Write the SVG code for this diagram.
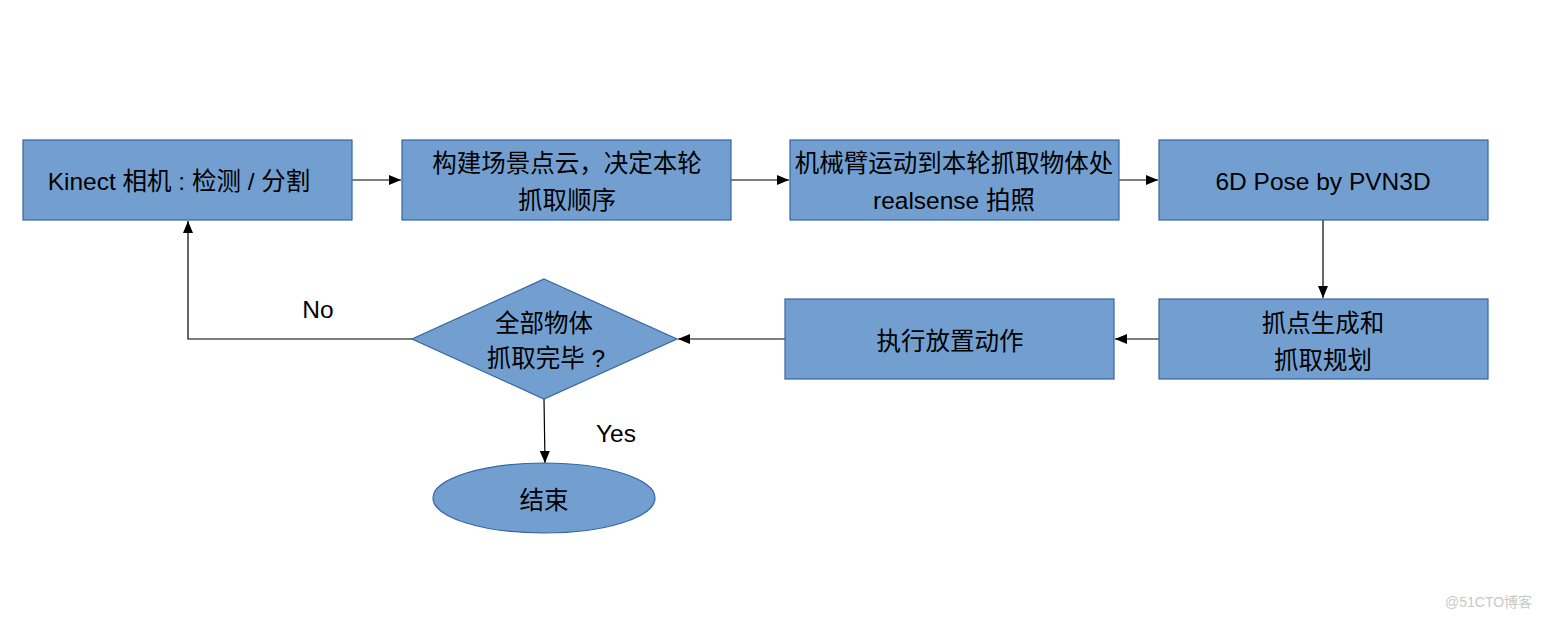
<svg xmlns="http://www.w3.org/2000/svg" width="1542" height="619" viewBox="0 0 1542 619">
<style>
.n{fill:#729fcf;stroke:#3465a4;stroke-width:1.2}
.t{font-family:"Liberation Sans","Noto Sans CJK SC",sans-serif;font-size:24.5px;fill:#000;text-anchor:middle;dominant-baseline:central}
.c{fill:none;stroke:#000;stroke-width:1.2}
.w{font-family:"Liberation Sans","Noto Sans CJK SC",sans-serif;font-size:14px;fill:#c8c8c8}
</style>
<defs>
<marker id="a" viewBox="0 0 12 10" refX="12" refY="5" markerWidth="12" markerHeight="10" markerUnits="userSpaceOnUse" orient="auto">
<path d="M0,0L12,5L0,10z" fill="#000"/>
</marker>
</defs>
<rect width="1542" height="619" fill="#fff"/>
<g id="connectors">
<line class="c" x1="352" y1="180" x2="401" y2="180" marker-end="url(#a)"/>
<line class="c" x1="731" y1="180" x2="789" y2="180" marker-end="url(#a)"/>
<line class="c" x1="1119" y1="180" x2="1158" y2="180" marker-end="url(#a)"/>
<line class="c" x1="1323" y1="220" x2="1323" y2="298" marker-end="url(#a)"/>
<line class="c" x1="1159" y1="339" x2="1115" y2="339" marker-end="url(#a)"/>
<line class="c" x1="785" y1="339" x2="678" y2="339" marker-end="url(#a)"/>
<polyline class="c" points="412,339 188,339 188,221" marker-end="url(#a)"/>
<line class="c" x1="544" y1="399" x2="545" y2="463" marker-end="url(#a)"/>
<text class="t" x="318" y="309">No</text>
<text class="t" x="616" y="433">Yes</text>
</g>
<g id="n1"><rect class="n" x="23" y="140" width="329" height="80"/><text class="t" x="179" y="181">Kinect 相机 : 检测 / 分割</text></g>
<g id="n2"><rect class="n" x="402" y="140" width="329" height="80"/><text class="t" x="567" y="163">构建场景点云，决定本轮</text><text class="t" x="567" y="200">抓取顺序</text></g>
<g id="n3"><rect class="n" x="790" y="140" width="329" height="80"/><text class="t" x="954" y="163">机械臂运动到本轮抓取物体处</text><text class="t" x="954" y="200">realsense 拍照</text></g>
<g id="n4"><rect class="n" x="1159" y="140" width="329" height="80"/><text class="t" x="1323" y="181">6D Pose by PVN3D</text></g>
<g id="n5"><rect class="n" x="1159" y="299" width="329" height="80"/><text class="t" x="1323" y="323">抓点生成和</text><text class="t" x="1323" y="360">抓取规划</text></g>
<g id="n6"><rect class="n" x="785" y="299" width="329" height="80"/><text class="t" x="950" y="341">执行放置动作</text></g>
<g id="n7"><polygon class="n" points="544,279 677,339 544,399 412,339"/><text class="t" x="544" y="323">全部物体</text><text class="t" x="546" y="358">抓取完毕 ?</text></g>
<g id="n8"><ellipse class="n" cx="544" cy="498" rx="111" ry="35"/><text class="t" x="544" y="500">结束</text></g>
<text class="w" x="1445" y="607">@51CTO博客</text>
</svg>
